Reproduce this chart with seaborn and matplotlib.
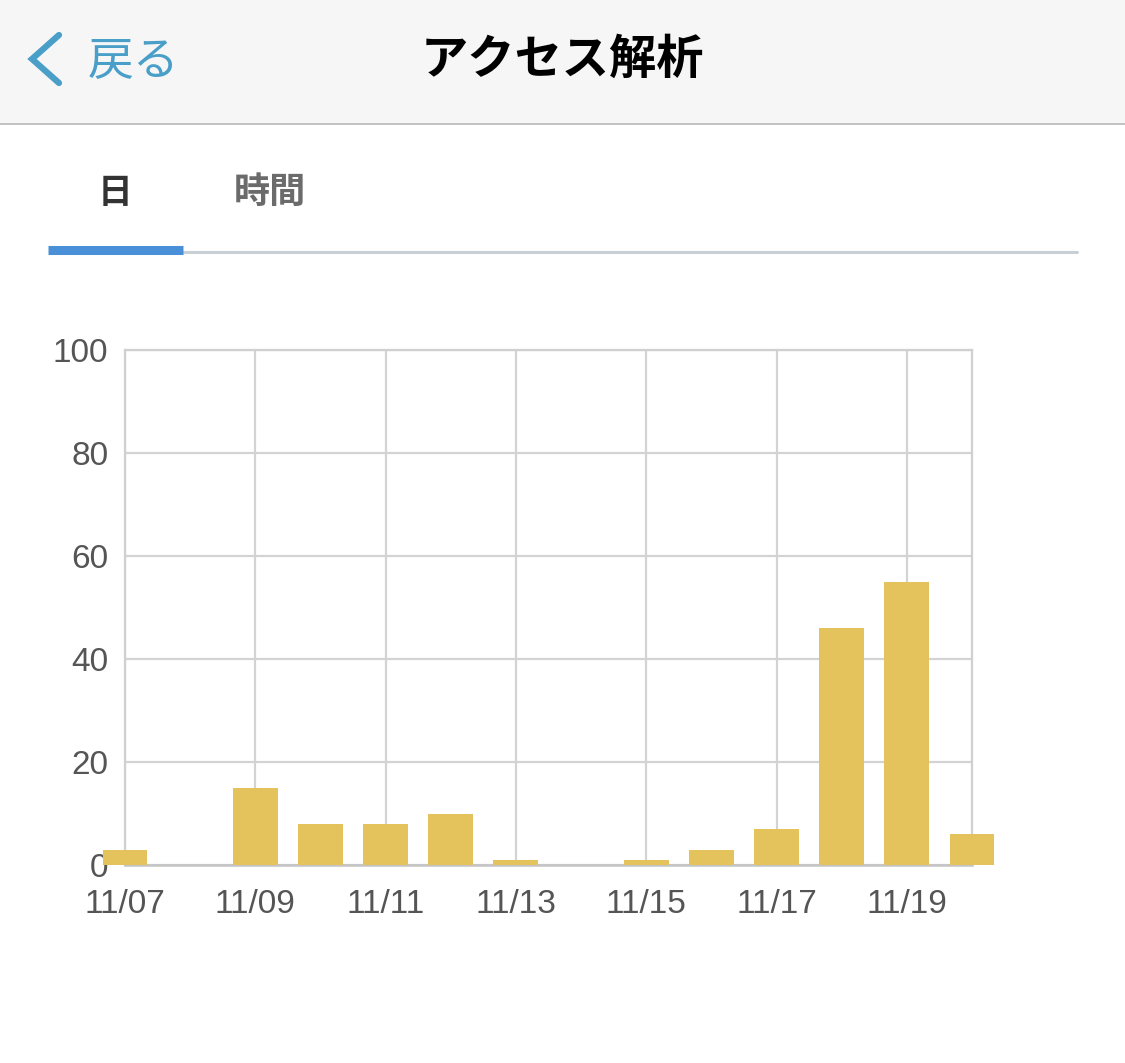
import numpy as np
import pandas as pd
import matplotlib
matplotlib.use("Agg")
import matplotlib.pyplot as plt
import seaborn as sns
from matplotlib.lines import Line2D
from matplotlib.patches import Rectangle

days = ["11/07", "11/08", "11/09", "11/10", "11/11", "11/12", "11/13",
        "11/14", "11/15", "11/16", "11/17", "11/18", "11/19", "11/20"]
visits = [3, 0, 15, 8, 8, 10, 1, 0, 1, 3, 7, 46, 55, 6]
y_ticks = [0, 20, 40, 60, 80, 100]
x_tick_labels = ["11/07", "11/09", "11/11", "11/13", "11/15", "11/17", "11/19"]

title = "アクセス解析"
back_label = "戻る"
tab_labels = ["日", "時間"]

sns.set_style("white")
plt.rcParams['font.family'] = ['Noto Sans CJK JP', 'DejaVu Sans']

W, H = 1125, 1063
fig = plt.figure(figsize=(W / 100, H / 100), dpi=100)
fig.patch.set_facecolor("white")

def fx(px):
    return px / W

def fy(py):
    return 1 - py / H

# header bar
fig.add_artist(Rectangle((0, fy(124)), 1, 124 / H, transform=fig.transFigure,
                         facecolor="#f6f6f6", edgecolor="none", zorder=0))
fig.add_artist(Line2D([0, 1], [fy(124), fy(124)], transform=fig.transFigure,
                      color="#b8b8b8", lw=1.2))
fig.add_artist(Line2D([fx(59), fx(32), fx(59)], [fy(35), fy(59), fy(83)],
                      transform=fig.transFigure, color="#4a9fc9", lw=4.5,
                      solid_capstyle="round", solid_joinstyle="miter"))
fig.text(fx(88), fy(61), back_label, fontsize=33, color="#4a9fc9",
         ha="left", va="center")
fig.text(fx(562), fy(60), title, fontsize=34, color="black",
         fontweight="bold", ha="center", va="center")

# tabs
fig.text(fx(115), fy(192), tab_labels[0], fontsize=25, color="#333333",
         fontweight="bold", ha="center", va="center")
fig.text(fx(270), fy(192), tab_labels[1], fontsize=26, color="#6b6b6b",
         fontweight="bold", ha="center", va="center")
fig.add_artist(Line2D([fx(183), fx(1077)], [fy(252), fy(252)],
                      transform=fig.transFigure, color="#c8d0d6", lw=2.2))
fig.add_artist(Line2D([fx(48), fx(183)], [fy(250), fy(250)],
                      transform=fig.transFigure, color="#4a90d9", lw=6.5,
                      solid_capstyle="butt"))

# chart
ax = fig.add_axes([fx(125), fy(865), fx(972) - fx(125), (865 - 350) / H])
df = pd.DataFrame({"day": days, "visits": visits})
sns.barplot(data=df, x="day", y="visits", order=days, color="#e4c35c",
            saturation=1, width=0.69, linewidth=0, ax=ax, zorder=3)
for p in ax.patches:
    p.set_clip_on(False)

ax.set_xlim(0, len(days) - 1)
ax.set_ylim(0, 100)
ax.set_yticks(y_ticks)
ax.set_xticks([days.index(d) for d in x_tick_labels])
ax.set_xticklabels(x_tick_labels)
ax.set_xlabel("")
ax.set_ylabel("")
ax.grid(True, color="#d3d3d3", lw=1.6, zorder=0)
ax.set_axisbelow(True)
for side in ["left", "top", "right"]:
    ax.spines[side].set_color("#d0d0d0")
    ax.spines[side].set_linewidth(1.6)
ax.spines["bottom"].set_color("#c4c4c4")
ax.spines["bottom"].set_linewidth(1.8)
ax.tick_params(axis="both", length=0, labelsize=24, colors="#555555")
ax.tick_params(axis="y", pad=12)
ax.tick_params(axis="x", pad=17)
for lab in ax.get_xticklabels() + ax.get_yticklabels():
    lab.set_family(["Liberation Sans", "DejaVu Sans"])

fig.savefig("out.png", dpi=100)
